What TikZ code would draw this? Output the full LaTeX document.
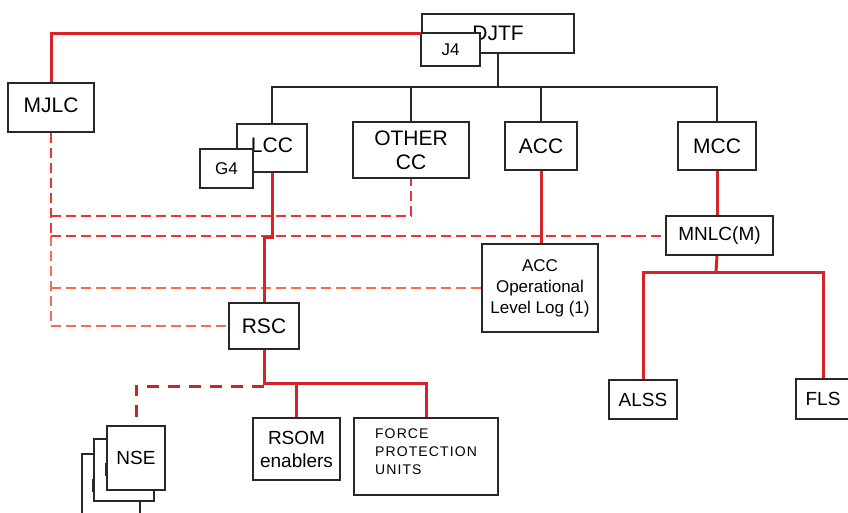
\documentclass[tikz,border=0pt]{standalone}
\usepackage{fontspec}
\setmainfont{Liberation Sans}
\definecolor{lred}{RGB}{214,35,40}
\definecolor{dred}{RGB}{240,50,50}
\definecolor{ored}{RGB}{242,112,78}
\definecolor{nred}{RGB}{205,35,40}
\definecolor{bk}{RGB}{40,40,40}
\begin{document}
\begin{tikzpicture}[x=1pt,y=-1pt,
  box/.style={draw=bk, line width=2pt, fill=white, inner sep=0pt, align=center},
  blk/.style={draw=bk, line width=2pt},
  rl/.style={draw=lred, line width=3pt},
  rdash/.style={draw=dred, line width=2pt, dash pattern=on 10pt off 5pt},
  odash/.style={draw=ored, line width=2pt, dash pattern=on 10pt off 5pt},
  ndash/.style={draw=nred, line width=3pt, dash pattern=on 12pt off 9pt},
  fbig/.style={font=\fontsize{21}{24}\selectfont},
  fmid/.style={font=\fontsize{19}{23}\selectfont},
  fsml/.style={font=\fontsize{17}{21}\selectfont},
  ftiny/.style={font=\fontsize{14}{18}\selectfont\addfontfeatures{LetterSpace=8}}
]
\useasboundingbox (0,0) rectangle (848,513);

% boxes
\node[box, minimum width=152pt, minimum height=39pt, fbig] (DJTF) at (498,33.5) {DJTF};
\node[box, minimum width=59pt, minimum height=33pt, fsml] (J4) at (450.5,49.5) {J4};
\node[box, minimum width=86pt, minimum height=49pt, fbig] (MJLC) at (51,107.5) {MJLC\rule[-4pt]{0pt}{0pt}};
\node[box, minimum width=70pt, minimum height=48pt, fbig] (LCC) at (272,148) {LCC\rule[-6pt]{0pt}{0pt}};
\node[box, minimum width=53pt, minimum height=39pt, fsml] (G4) at (226.5,168.5) {G4};
\node[box, minimum width=116pt, minimum height=56pt, fbig] (OTHER) at (411,150) {OTHER\\CC};
\node[box, minimum width=72pt, minimum height=48pt, fbig] (ACC) at (541,146) {ACC};
\node[box, minimum width=78pt, minimum height=48pt, fbig] (MCC) at (717,146) {MCC};
\node[box, minimum width=107pt, minimum height=39pt, fmid] (MNLC) at (719.5,235.5) {MNLC(M)};
\node[box, minimum width=116pt, minimum height=88pt, fsml] (ACCLog) at (540,288) {ACC\\Operational\\Level Log (1)};
\node[box, minimum width=70pt, minimum height=46pt, fbig] (RSC) at (264,326) {RSC};
\node[box, minimum width=87pt, minimum height=62pt, fmid] (RSOM) at (296.5,449) {RSOM\\enablers};
\node[box, minimum width=144pt, minimum height=77pt, ftiny, align=left] (FP) at (426,456.5) {FORCE\\PROTECTION\\UNITS\rule[-10pt]{0pt}{0pt}};
\node[box, minimum width=68pt, minimum height=39pt, fmid] (ALSS) at (643,399.5) {ALSS};
\node[box, minimum width=54pt, minimum height=40pt, fmid] (FLS) at (823,399) {FLS};
\node[box, minimum width=58pt, minimum height=76pt] (NSEc) at (111,492) {};
\node[box, minimum width=60pt, minimum height=62pt] (NSEb) at (124,470) {};
\node[box, minimum width=58pt, minimum height=64pt, fmid] (NSE) at (136,458) {NSE};
\draw[bk, line width=3pt] (NSE.west |- 0,463) -- (NSE.west |- 0,476);
\draw[bk, line width=3pt] (NSEb.west |- 0,479) -- (NSEb.west |- 0,492);

% helper coordinates
\coordinate (bus) at (0,87);
\coordinate (jog) at (264,237);
\coordinate (rb) at (264,383);
\coordinate (mb) at (716,272);
\coordinate (d1) at (0,216);
\coordinate (d2) at (0,236);
\coordinate (nd) at (0,386);

% dashed liaison lines
\draw[rdash] (MJLC.south) -- (MJLC.south |- d2);
\draw[odash] (MJLC.south |- d2) -- (MJLC.south |- RSC.west);
\draw[rdash] (MJLC.south |- d1) -| (OTHER.south);
\draw[rdash] (MJLC.south |- d2) -- (MNLC.west |- d2);
\draw[odash] (MJLC.south |- ACCLog.west) -- (ACCLog.west);
\draw[odash] (MJLC.south |- RSC.west) -- (RSC.west);

% black command lines
\draw[blk] (DJTF.south) -- (DJTF.south |- bus);
\draw[blk] (LCC.north) -- (LCC.north |- bus) -- (MCC.north |- bus) -- (MCC.north);
\draw[blk] (OTHER.north) -- (OTHER.north |- bus);
\draw[blk] (ACC.north) -- (ACC.north |- bus);

% red lines
\draw[rl] (MJLC.north) |- (DJTF.west);
\draw[rl] (LCC.south) -- (LCC.south |- jog) -- (jog) -- (RSC.north);
\draw[rl] (ACC.south) -- (ACC.south |- ACCLog.north);
\draw[rl] (MCC.south) -- (MCC.south |- MNLC.north);
\draw[rl] (MCC.south |- MNLC.south) -- (mb);
\draw[rl] (ALSS.north) |- (mb) -| (FLS.north);
\draw[rl] (RSC.south) -- (rb) -| (FP.north);
\draw[rl] (RSOM.north |- rb) -- (RSOM.north);
\draw[ndash] (RSC.south |- nd) -| (NSE.north);
\end{tikzpicture}
\end{document}
